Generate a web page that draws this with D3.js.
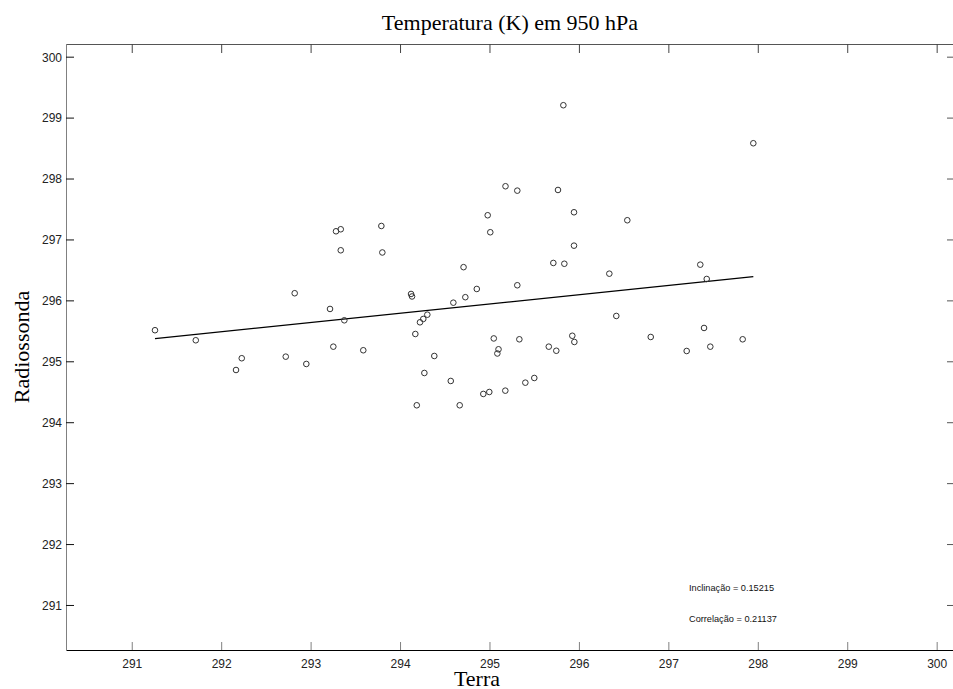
<!DOCTYPE html>
<html>
<head>
<meta charset="utf-8">
<script src="https://cdn.jsdelivr.net/npm/d3@7"></script>
<style>
  html, body { margin: 0; padding: 0; background: #fff; }
  svg { display: block; }
</style>
</head>
<body>
<svg id="chart" width="953" height="689"></svg>
<script>
// ---- data ----
const title = "Temperatura (K) em 950 hPa";
const xLabel = "Terra";
const yLabel = "Radiossonda";
const xTicks = [291, 292, 293, 294, 295, 296, 297, 298, 299, 300];
const yTicks = [291, 292, 293, 294, 295, 296, 297, 298, 299, 300];
const terra = [
  291.26, 291.716, 292.166, 292.23, 292.722, 292.822, 292.952, 293.217, 293.254, 293.284,
  293.337, 293.337, 293.377, 293.589, 293.791, 293.802, 294.123, 294.134, 294.171, 294.187,
  294.223, 294.26, 294.305, 294.272, 294.383, 294.567, 294.596, 294.71, 294.73, 294.858,
  294.667, 294.931, 294.98, 294.998, 295.009, 295.048, 295.101, 295.088, 295.179, 295.177,
  295.311, 295.311, 295.334, 295.401, 295.501, 295.663, 295.714, 295.747, 295.766, 295.826,
  295.837, 295.945, 295.945, 295.926, 295.949, 296.34, 296.418, 296.541, 296.803, 297.205,
  297.357, 297.399, 297.429, 297.469, 297.831, 297.95
];
const radiossonda = [
  295.51, 295.345, 294.857, 295.05, 295.076, 296.117, 294.956, 295.859, 295.24, 297.134,
  297.167, 296.822, 295.673, 295.181, 297.221, 296.786, 296.105, 296.064, 295.448, 294.278,
  295.64, 295.695, 295.765, 294.808, 295.087, 294.677, 295.962, 296.545, 296.052, 296.187,
  294.278, 294.464, 297.397, 294.496, 297.118, 295.375, 295.197, 295.128, 297.873, 294.518,
  297.801, 296.248, 295.361, 294.649, 294.726, 295.24, 296.614, 295.173, 297.812, 299.203,
  296.601, 297.446, 296.898, 295.419, 295.317, 296.438, 295.744, 297.315, 295.399, 295.169,
  296.586, 295.547, 296.351, 295.24, 295.361, 298.579
];
const slope = 0.15215;
const intercept = 251.056;
const annotations = ["Inclinação = 0.15215", "Correlação = 0.21137"];

// ---- layout ----
const svg = d3.select("#chart");
const L = 66, R = 955, T = 44, B = 650;
const x = d3.scaleLinear().domain([290.265, 300.205]).range([L, R]);
const y = d3.scaleLinear().domain([290.261, 300.208]).range([B, T]);

// box lines
svg.append("line").attr("x1", L).attr("x2", R).attr("y1", T + 0.5).attr("y2", T + 0.5)
  .attr("stroke", "#555").attr("stroke-width", 1);
svg.append("line").attr("x1", L).attr("x2", R).attr("y1", B + 0.5).attr("y2", B + 0.5)
  .attr("stroke", "#000").attr("stroke-width", 1);
svg.append("line").attr("x1", L + 0.5).attr("x2", L + 0.5).attr("y1", T).attr("y2", B + 1)
  .attr("stroke", "#808080").attr("stroke-width", 1);
svg.append("line").attr("x1", R - 0.5).attr("x2", R - 0.5).attr("y1", T).attr("y2", B + 1)
  .attr("stroke", "#808080").attr("stroke-width", 1);

const tickFont = "'Liberation Sans', Arial, sans-serif";

// bottom axis
const gB = svg.append("g").attr("transform", `translate(0,${B})`)
  .call(d3.axisBottom(x).tickValues(xTicks).tickSize(-8).tickPadding(0).tickFormat(d3.format("d")));
gB.select(".domain").remove();
gB.selectAll(".tick line").attr("stroke", "#808080");
gB.selectAll(".tick text").attr("y", 18).attr("dy", 0).attr("fill", "#222")
  .style("font-family", tickFont).style("font-size", "12px");

// top axis (ticks only)
const gT = svg.append("g").attr("transform", `translate(0,${T})`)
  .call(d3.axisTop(x).tickValues(xTicks).tickSize(-9).tickFormat(""));
gT.select(".domain").remove();
gT.selectAll(".tick line").attr("stroke", "#444");

// left axis
const gL = svg.append("g").attr("transform", `translate(${L},0)`)
  .call(d3.axisLeft(y).tickValues(yTicks).tickSize(-8).tickPadding(0).tickFormat(d3.format("d")));
gL.select(".domain").remove();
gL.selectAll(".tick line").attr("stroke", "#111");
gL.selectAll(".tick text").attr("x", -4).attr("dy", "0.36em").attr("fill", "#222")
  .style("font-family", tickFont).style("font-size", "12px");

// right axis (ticks only)
const gR = svg.append("g").attr("transform", `translate(${R},0)`)
  .call(d3.axisRight(y).tickValues(yTicks).tickSize(-8).tickFormat(""));
gR.select(".domain").remove();
gR.selectAll(".tick line").attr("stroke", "#555");

// regression line
const xMin = d3.min(terra), xMax = d3.max(terra);
svg.append("line")
  .attr("x1", x(xMin)).attr("y1", y(intercept + slope * xMin))
  .attr("x2", x(xMax)).attr("y2", y(intercept + slope * xMax))
  .attr("stroke", "#000").attr("stroke-width", 1.3);

// points
svg.append("g").selectAll("circle")
  .data(terra.map((t, i) => [t, radiossonda[i]]))
  .join("circle")
  .attr("cx", d => x(d[0])).attr("cy", d => y(d[1]))
  .attr("r", 2.8)
  .attr("fill", "none").attr("stroke", "#333").attr("stroke-width", 1);

// title and axis labels
const serif = "'Liberation Serif', 'Times New Roman', serif";
svg.append("text").attr("x", 510).attr("y", 30).attr("text-anchor", "middle")
  .style("font-family", serif).style("font-size", "22px").attr("fill", "#000").text(title);
svg.append("text").attr("x", 477).attr("y", 686).attr("text-anchor", "middle")
  .style("font-family", serif).style("font-size", "22px").attr("fill", "#000").text(xLabel);
svg.append("text").attr("transform", "translate(29,347) rotate(-90)").attr("text-anchor", "middle")
  .style("font-family", serif).style("font-size", "22px").attr("fill", "#000").text(yLabel);

// annotations
svg.selectAll("text.ann").data(annotations).join("text")
  .attr("class", "ann")
  .attr("x", 689).attr("y", (d, i) => 591 + i * 31)
  .style("font-family", tickFont).style("font-size", "9.2px").attr("fill", "#111")
  .text(d => d);
</script>
</body>
</html>
